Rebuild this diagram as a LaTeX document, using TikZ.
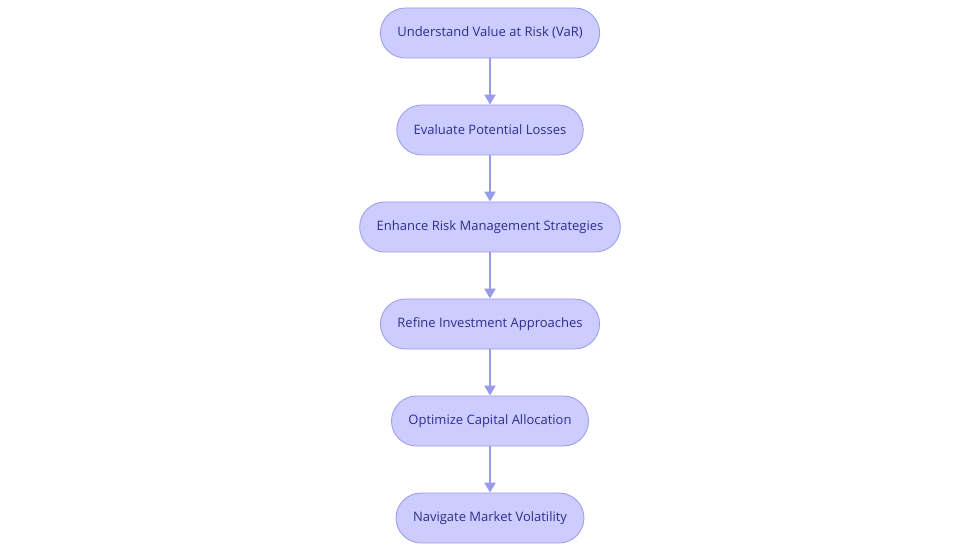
\documentclass[tikz,border=0pt]{standalone}
\usepackage{fontspec}
\setmainfont{Open Sans}
\usetikzlibrary{arrows.meta}
\definecolor{boxfill}{HTML}{CCCCFF}
\definecolor{boxline}{HTML}{9A9AEA}
\definecolor{boxtext}{HTML}{2E2E8F}
\begin{document}
\begin{tikzpicture}
  [x=1pt,y=-1pt,every node/.style={draw=boxline,fill=boxfill,text=boxtext,
   rounded corners=25pt,minimum height=50pt,inner xsep=17pt,line width=0.8pt,
   font=\fontsize{13}{15}\selectfont}]
  \useasboundingbox (0,0) rectangle (980,553);
  \node (n1) at (490,33)  {Understand Value at Risk (VaR)};
  \node (n2) at (490,130) {Evaluate Potential Losses};
  \node (n3) at (490,227) {Enhance Risk Management Strategies};
  \node (n4) at (490,324) {Refine Investment Approaches};
  \node (n5) at (490,421) {Optimize Capital Allocation};
  \node (n6) at (490,518) {Navigate Market Volatility};

  \foreach \from/\to in {n1/n2,n2/n3,n3/n4,n4/n5,n5/n6}
    \draw[boxline,line width=2pt,-{Triangle[length=10pt,width=11pt]}] (\from) -- (\to);

\end{tikzpicture}
\end{document}
